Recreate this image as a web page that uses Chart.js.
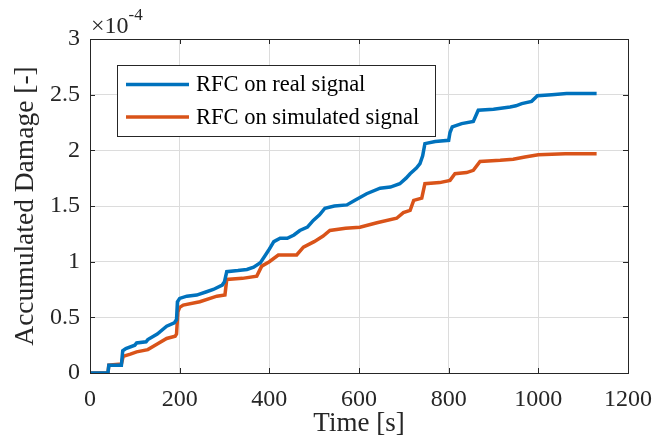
<!DOCTYPE html>
<html>
<head>
<meta charset="utf-8">
<script src="https://cdn.jsdelivr.net/npm/chart.js@4/dist/chart.umd.min.js"></script>
<style>
  html, body { margin: 0; padding: 0; background: #fff; }
  #wrap { width: 667px; height: 448px; }
</style>
</head>
<body>
<div id="wrap"><canvas id="chart" width="667" height="448"></canvas></div>
<script>
// values in units of 1e-4
const realTime = [0, 40, 42, 70, 73, 80, 100, 104, 125, 129, 150, 171, 188, 193, 195, 200, 216, 238, 260, 275, 295, 300, 305, 330, 350, 365, 380, 390, 398, 410, 424, 440, 455, 468, 485, 498, 512, 524, 545, 573, 590, 617, 647, 670, 691, 705, 714, 728, 736, 742, 747, 770, 800, 803, 808, 829, 855, 866, 900, 937, 950, 963, 985, 998, 1030, 1063, 1130];
const realDamage = [0, 0, 0.07, 0.07, 0.2, 0.22, 0.25, 0.27, 0.28, 0.30, 0.35, 0.42, 0.45, 0.48, 0.64, 0.67, 0.69, 0.70, 0.73, 0.75, 0.79, 0.82, 0.91, 0.92, 0.93, 0.95, 0.99, 1.05, 1.10, 1.18, 1.21, 1.21, 1.24, 1.28, 1.31, 1.37, 1.42, 1.48, 1.50, 1.51, 1.55, 1.61, 1.66, 1.67, 1.70, 1.75, 1.79, 1.84, 1.88, 1.95, 2.06, 2.08, 2.09, 2.16, 2.21, 2.24, 2.26, 2.36, 2.37, 2.39, 2.40, 2.42, 2.44, 2.49, 2.50, 2.51, 2.51];

const simTime = [0, 40, 42, 70, 74, 90, 104, 129, 150, 171, 190, 193, 196, 200, 208, 245, 283, 301, 305, 340, 372, 383, 400, 420, 461, 476, 500, 520, 535, 570, 602, 640, 684, 699, 714, 722, 740, 747, 780, 803, 814, 840, 855, 870, 915, 944, 970, 1000, 1060, 1130];
const simDamage = [0, 0, 0.07, 0.08, 0.15, 0.17, 0.19, 0.21, 0.26, 0.31, 0.33, 0.35, 0.55, 0.59, 0.61, 0.64, 0.69, 0.70, 0.84, 0.85, 0.87, 0.96, 1.00, 1.06, 1.06, 1.13, 1.18, 1.23, 1.28, 1.30, 1.31, 1.35, 1.39, 1.44, 1.46, 1.55, 1.57, 1.70, 1.71, 1.73, 1.79, 1.80, 1.82, 1.90, 1.91, 1.92, 1.94, 1.96, 1.97, 1.97];

const seriesLabels = ['RFC on real signal', 'RFC on simulated signal'];
const seriesColors = ['#0072BD', '#D95319'];
const xTicks = [0, 200, 400, 600, 800, 1000, 1200];
const yTicks = [0, 0.5, 1, 1.5, 2, 2.5, 3];

const SERIF = '"Liberation Serif", "DejaVu Serif", serif';
const AXIS = '#262626';

function points(xs, ys) {
  return xs.map((x, i) => ({ x: x, y: ys[i] }));
}

// box, inward ticks, exponent and legend, MATLAB style
const matlabAxes = {
  id: 'matlabAxes',
  beforeDatasetsDraw(chart) {
    const { ctx, chartArea: a, scales } = chart;
    ctx.save();
    ctx.strokeStyle = AXIS;
    ctx.lineWidth = 1;
    ctx.beginPath();
    xTicks.forEach(v => {
      const px = Math.round(scales.x.getPixelForValue(v)) + 0.5;
      ctx.moveTo(px, a.bottom); ctx.lineTo(px, a.bottom - 5);
      ctx.moveTo(px, a.top); ctx.lineTo(px, a.top + 5);
    });
    yTicks.forEach(v => {
      const py = Math.round(scales.y.getPixelForValue(v)) + 0.5;
      ctx.moveTo(a.left, py); ctx.lineTo(a.left + 5, py);
      ctx.moveTo(a.right, py); ctx.lineTo(a.right - 5, py);
    });
    ctx.stroke();
    ctx.restore();
  },
  afterDatasetsDraw(chart) {
    const { ctx, chartArea: a } = chart;
    ctx.save();
    ctx.strokeStyle = AXIS;
    ctx.lineWidth = 1;
    ctx.strokeRect(Math.round(a.left) + 0.5, Math.round(a.top) + 0.5,
      Math.round(a.right - a.left), Math.round(a.bottom - a.top));

    // exponent
    ctx.fillStyle = AXIS;
    ctx.textBaseline = 'alphabetic';
    ctx.textAlign = 'left';
    ctx.font = '24px ' + SERIF;
    ctx.fillText('\u00d710', 91, 33);
    const w = ctx.measureText('\u00d710').width;
    ctx.font = '17px ' + SERIF;
    ctx.fillText('-4', 91 + w, 20);

    // legend
    const lx = 117, ly = 65, lw = 318, lh = 71;
    ctx.fillStyle = '#fff';
    ctx.fillRect(lx, ly, lw, lh);
    ctx.strokeStyle = AXIS;
    ctx.strokeRect(lx + 0.5, ly + 0.5, lw, lh);
    ctx.font = '22.5px ' + SERIF;
    ctx.textBaseline = 'middle';
    seriesLabels.forEach((label, i) => {
      const y = 84.5 + i * 32.5;
      ctx.strokeStyle = seriesColors[i];
      ctx.lineWidth = 3.5;
      ctx.beginPath();
      ctx.moveTo(126, y); ctx.lineTo(189, y);
      ctx.stroke();
      ctx.fillStyle = '#000';
      ctx.fillText(label, 196, y + 1);
    });
    ctx.restore();
  }
};

new Chart(document.getElementById('chart').getContext('2d'), {
  type: 'line',
  data: {
    datasets: [
      {
        label: seriesLabels[0],
        data: points(realTime, realDamage),
        borderColor: seriesColors[0],
        backgroundColor: seriesColors[0],
        borderWidth: 3.5,
        pointRadius: 0,
        tension: 0,
      },
      {
        label: seriesLabels[1],
        data: points(simTime, simDamage),
        borderColor: seriesColors[1],
        backgroundColor: seriesColors[1],
        borderWidth: 3.5,
        pointRadius: 0,
        tension: 0,
      },
    ],
  },
  options: {
    responsive: false,
    animation: false,
    events: [],
    layout: { padding: { left: 0, top: 39, right: 39, bottom: 0 } },
    plugins: { legend: { display: false }, tooltip: { enabled: false } },
    scales: {
      x: {
        type: 'linear',
        min: 0,
        max: 1200,
        afterFit: scale => { scale.height = 75; },
        afterBuildTicks: scale => { scale.ticks = xTicks.map(v => ({ value: v })); },
        grid: { color: '#dcdcdc', drawTicks: false },
        border: { display: false },
        ticks: { color: AXIS, padding: 12, maxRotation: 0, font: { family: SERIF, size: 24 }, callback: v => String(v) },
        title: {
          display: true,
          text: 'Time [s]',
          color: AXIS,
          padding: { bottom: 8 },
          font: { family: SERIF, size: 27 },
        },
      },
      y: {
        min: 0,
        max: 3,
        afterFit: scale => { scale.width = 90; },
        afterBuildTicks: scale => { scale.ticks = yTicks.map(v => ({ value: v })); },
        grid: { color: '#dcdcdc', drawTicks: false },
        border: { display: false },
        ticks: { color: AXIS, padding: 10, font: { family: SERIF, size: 24 }, callback: v => String(v) },
        title: {
          display: true,
          text: 'Accumulated Damage [-]',
          color: AXIS,
          padding: { top: 9 },
          font: { family: SERIF, size: 27.5 },
        },
      },
    },
  },
  plugins: [matlabAxes],
});
</script>
</body>
</html>
